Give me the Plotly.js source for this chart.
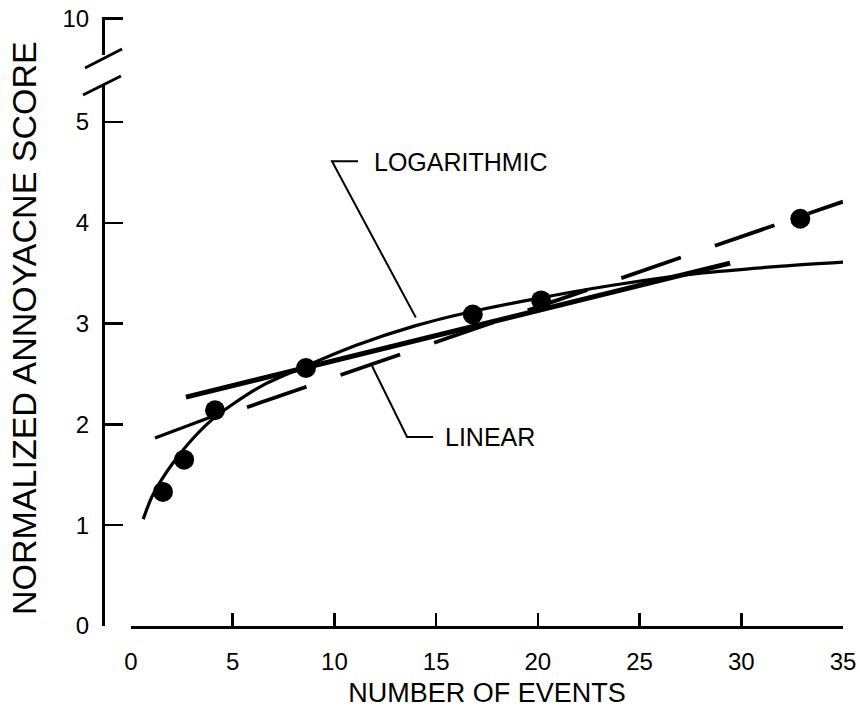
<!DOCTYPE html>
<html>
<head>
<meta charset="utf-8">
<script src="https://cdn.plot.ly/plotly-3.0.1.min.js"></script>
<style>html,body{margin:0;padding:0;background:#fff;}#chart{width:860px;height:710px;}</style>
</head>
<body>
<div id="chart"></div>
<script>
// Observed data points
var eventsX = [1.57, 2.61, 4.13, 8.6, 16.8, 20.16, 32.9];
var scoreY  = [1.33, 1.65, 2.14, 2.56, 3.09, 3.23, 4.04];

// Logarithmic fit curve
var logX = [0.6, 1.0, 1.5, 2.0, 3.0, 4.0, 5.0, 6.5, 8.5, 11, 14, 17, 20, 24, 28, 32, 35];
var logY = [1.06, 1.27, 1.45, 1.60, 1.85, 2.05, 2.20, 2.39, 2.57, 2.78, 2.98, 3.13, 3.25, 3.39, 3.50, 3.57, 3.61];

// Heavy straight line
var heavyX = [2.7, 29.45];
var heavyY = [2.27, 3.60];

// Short thin straight line
var shortX = [1.18, 4.03];
var shortY = [1.865, 2.08];

// Linear fit (dashed)
var linX = [5.7, 35];
var linY = [2.17, 4.21];

// Tick labels
var xTicks = [0, 5, 10, 15, 20, 25, 30, 35];
var yTicks = [0, 1, 2, 3, 4, 5];
var yTicksTop = [10];

var FONT = 'Liberation Sans, Arial, Helvetica, sans-serif';

var traces = [
  {x: logX, y: logY, type: 'scatter', mode: 'lines', line: {color: '#000', width: 3.2, shape: 'spline', smoothing: 0.8}, hoverinfo: 'skip', showlegend: false},
  {x: heavyX, y: heavyY, type: 'scatter', mode: 'lines', line: {color: '#000', width: 5}, hoverinfo: 'skip', showlegend: false},
  {x: shortX, y: shortY, type: 'scatter', mode: 'lines', line: {color: '#000', width: 3.2}, hoverinfo: 'skip', showlegend: false},
  {x: linX, y: linY, type: 'scatter', mode: 'lines', line: {color: '#000', width: 3.8, dash: '63px,36px'}, hoverinfo: 'skip', showlegend: false},
  {x: eventsX, y: scoreY, type: 'scatter', mode: 'markers', marker: {color: '#000', size: 20}, showlegend: false},
  // empty trace so the upper (broken) axis segment is drawn
  {x: [], y: [], xaxis: 'x', yaxis: 'y2', type: 'scatter', mode: 'markers', hoverinfo: 'skip', showlegend: false}
];

var W = 740, H = 609; // plot area px
function px2paperX(px) { return (px - 103) / W; }
function px2paperY(py) { return (626 - py) / H; }

var layout = {
  width: 860, height: 710,
  margin: {l: 103, r: 17, t: 17, b: 84},
  paper_bgcolor: '#fff', plot_bgcolor: '#fff',
  font: {family: FONT, color: '#000', size: 24},
  showlegend: false,
  xaxis: {
    domain: [28 / W, 1], range: [0, 35],
    tickvals: xTicks, ticktext: xTicks.map(String),
    ticks: 'inside', ticklen: 13, tickwidth: 2.5, tickcolor: '#000',
    showline: true, linewidth: 2.5, linecolor: '#000',
    showgrid: false, zeroline: false,
    ticklabelstandoff: 13,
    tickfont: {family: FONT, size: 24, color: '#000'},
    title: {text: 'NUMBER OF EVENTS', font: {family: FONT, size: 27, color: '#000'}, standoff: 9},
    anchor: 'y'
  },
  yaxis: {
    domain: [0, (626 - 85) / H], range: [0, 541 / 100.8],
    tickvals: yTicks, ticktext: yTicks.map(String),
    ticks: 'inside', ticklen: 18, tickwidth: 2.5, tickcolor: '#000',
    showline: true, linewidth: 2.5, linecolor: '#000',
    showgrid: false, zeroline: false,
    ticklabelstandoff: 8,
    tickfont: {family: FONT, size: 24, color: '#000'},
    anchor: 'free', position: 0
  },
  yaxis2: {
    domain: [(626 - 55) / H, 1], range: [9.6, 10.015],
    tickvals: yTicksTop, ticktext: yTicksTop.map(String),
    ticks: 'inside', ticklen: 18, tickwidth: 2.5, tickcolor: '#000',
    showline: true, linewidth: 2.5, linecolor: '#000',
    showgrid: false, zeroline: false,
    ticklabelstandoff: 8,
    tickfont: {family: FONT, size: 24, color: '#000'},
    anchor: 'free', position: 0
  },
  shapes: [
    // axis break slashes
    {type: 'line', xref: 'paper', yref: 'paper', x0: px2paperX(85), y0: px2paperY(68), x1: px2paperX(122), y1: px2paperY(49), line: {color: '#000', width: 3}},
    {type: 'line', xref: 'paper', yref: 'paper', x0: px2paperX(83), y0: px2paperY(95), x1: px2paperX(121), y1: px2paperY(76), line: {color: '#000', width: 3}},
    // leader for LOGARITHMIC
    {type: 'path', xref: 'x', yref: 'y', path: 'M 11.16 4.61 L 9.88 4.61 L 14.0 3.06', line: {color: '#000', width: 2}},
    // leader for LINEAR
    {type: 'path', xref: 'x', yref: 'y', path: 'M 11.85 2.58 L 13.57 1.875 L 14.85 1.875', line: {color: '#000', width: 2}}
  ],
  annotations: [
    {text: 'LOGARITHMIC', xref: 'x', yref: 'y', x: 11.85, y: 4.60, xanchor: 'left', yanchor: 'middle', showarrow: false, font: {family: FONT, size: 25, color: '#000'}},
    {text: 'LINEAR', xref: 'x', yref: 'y', x: 15.34, y: 1.875, xanchor: 'left', yanchor: 'middle', showarrow: false, font: {family: FONT, size: 25, color: '#000'}},
    {text: 'NORMALIZED ANNOYACNE SCORE', xref: 'paper', yref: 'paper', x: px2paperX(24), y: px2paperY(328), xanchor: 'center', yanchor: 'middle', textangle: -90, showarrow: false, font: {family: FONT, size: 34, color: '#000'}}
  ]
};

Plotly.newPlot('chart', traces, layout, {displayModeBar: false, staticPlot: true});
</script>
</body>
</html>
